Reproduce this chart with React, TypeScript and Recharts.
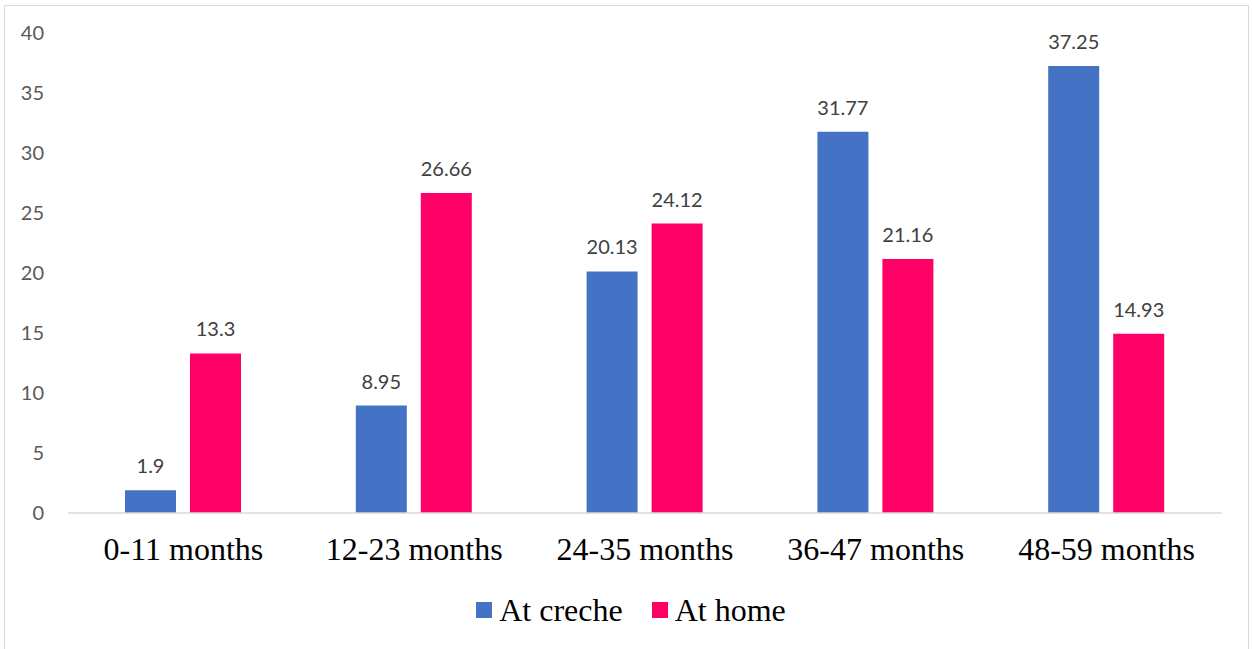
import { BarChart, Bar, XAxis, YAxis, Legend, LabelList } from 'recharts'

const AGE_GROUPS = ['0-11 months', '12-23 months', '24-35 months', '36-47 months', '48-59 months']
const AT_CRECHE = [1.9, 8.95, 20.13, 31.77, 37.25]
const AT_HOME = [13.3, 26.66, 24.12, 21.16, 14.93]
const Y_TICKS = [0, 5, 10, 15, 20, 25, 30, 35, 40]

const BLUE = '#4472C4'
const PINK = '#FF0066'

const data = AGE_GROUPS.map((age, i) => ({
    age,
    creche: AT_CRECHE[i],
    home: AT_HOME[i],
}))

const serif = '"Liberation Serif", "Times New Roman", serif'
const sans = 'Lato, "Open Sans", sans-serif'

// custom legend so the squares and text sit like the original
function LegendContent() {
    const items = [
        { label: 'At creche', color: BLUE },
        { label: 'At home', color: PINK },
    ]
    return (
        <div style={{ display: 'flex', justifyContent: 'center', gap: 29, fontFamily: serif, fontSize: 32, lineHeight: '36px', color: '#000' }}>
            {items.map(it => (
                <div key={it.label} style={{ display: 'flex', alignItems: 'center', gap: 7 }}>
                    <span style={{ display: 'inline-block', width: 16, height: 16, background: it.color }} />
                    <span>{it.label}</span>
                </div>
            ))}
        </div>
    )
}

export default function App() {
    return (
        <div style={{ position: 'absolute', left: 0, top: 0, width: 1252, height: 649, background: '#fff', overflow: 'hidden' }}>
            <div style={{ position: 'absolute', left: 4, top: 5, width: 1245, height: 660, border: '1px solid #d9d9d9', boxSizing: 'border-box' }} />
            <div style={{ position: 'absolute', left: 0, top: 0 }}>
                <BarChart
                    width={1252}
                    height={649}
                    data={data}
                    margin={{ top: 33, right: 30, left: 8, bottom: 40 }}
                    barCategoryGap="24.7%"
                    barGap={14}
                >
                    <XAxis
                        dataKey="age"
                        axisLine={{ stroke: '#d9d9d9', strokeWidth: 1.5 }}
                        tickLine={false}
                        tickMargin={18}
                        height={60}
                        tick={{ fill: '#000', fontSize: 32, fontFamily: serif }}
                    />
                    <YAxis
                        width={60}
                        domain={[0, 40]}
                        ticks={Y_TICKS}
                        axisLine={false}
                        tickLine={false}
                        tickMargin={18}
                        tick={{ fill: '#595959', fontSize: 20, fontFamily: sans }}
                    />
                    <Legend
                        verticalAlign="bottom"
                        content={<LegendContent />}
                        wrapperStyle={{ top: 592, left: 0, width: 1262, height: 36 }}
                    />
                    <Bar dataKey="creche" name="At creche" fill={BLUE} isAnimationActive={false}>
                        <LabelList dataKey="creche" position="top" offset={17} fill="#404040" fontSize={20} fontFamily={sans} />
                    </Bar>
                    <Bar dataKey="home" name="At home" fill={PINK} isAnimationActive={false}>
                        <LabelList dataKey="home" position="top" offset={17} fill="#404040" fontSize={20} fontFamily={sans} />
                    </Bar>
                </BarChart>
            </div>
        </div>
    )
}
